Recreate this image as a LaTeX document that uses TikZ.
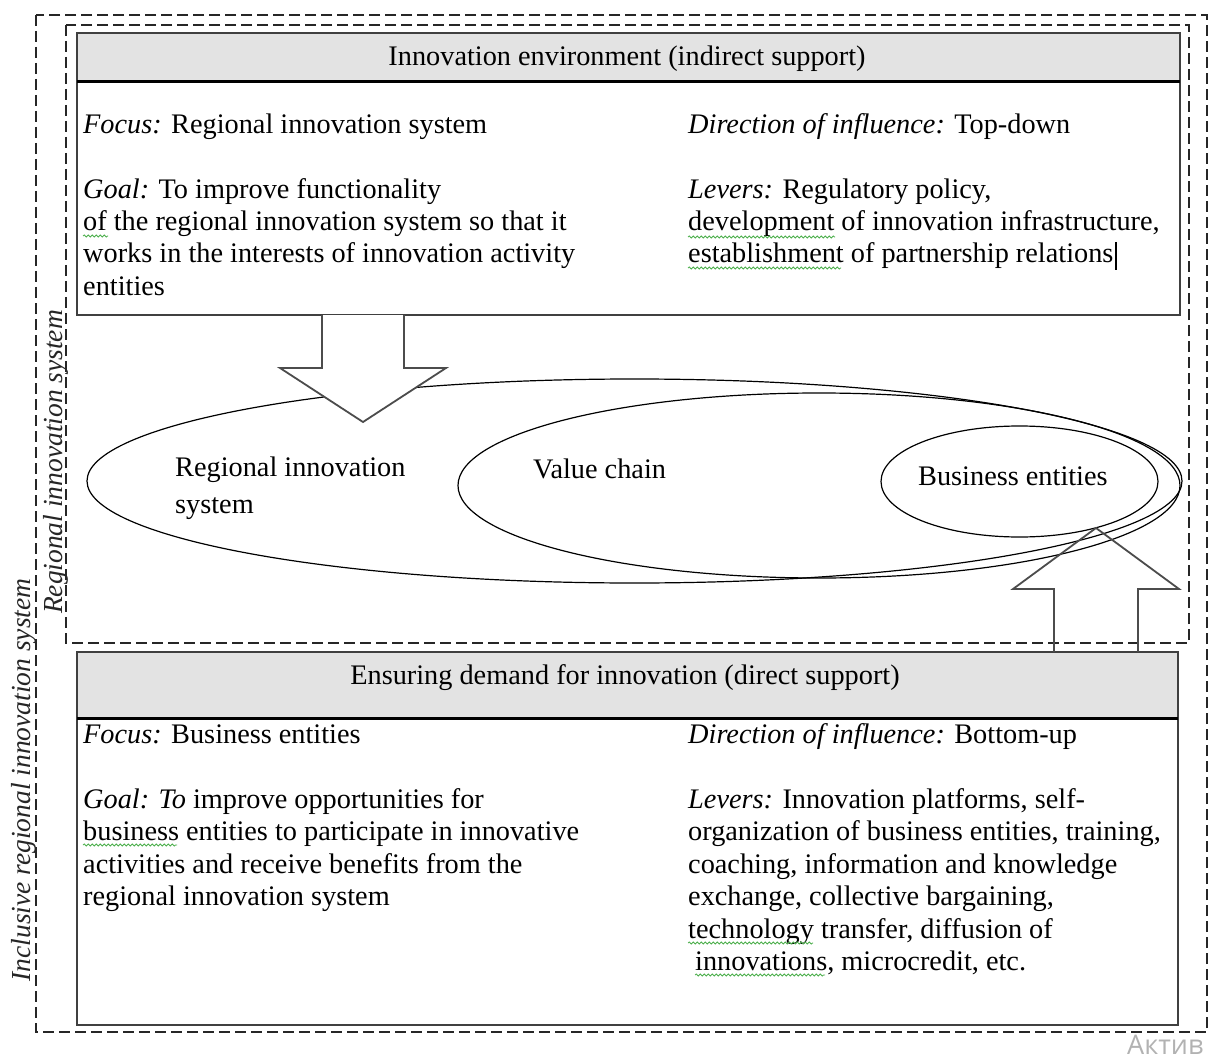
\documentclass[tikz,border=0pt]{standalone}
\usepackage{fontspec}
\usetikzlibrary{decorations.pathmorphing}
\setmainfont{Liberation Serif}
\newfontfamily\wmfont{Open Sans}
\begin{document}
\begin{tikzpicture}[x=1pt,y=-1pt,
  txt/.style={anchor=base west, inner sep=0pt, font=\fontsize{28.3}{32}\selectfont, text=black},
  headtxt/.style={anchor=base, inner sep=0pt, font=\fontsize{28.3}{32}\selectfont, text=black},
  rottxt/.style={anchor=base, inner sep=0pt, rotate=90, font=\fontsize{27.5}{32}\selectfont\itshape, text=black!85},
  dashbox/.style={draw=black!85, line width=1.3pt, dash pattern=on 11pt off 5pt},
  panel/.style={draw=black!75, line width=2pt, fill=white},
  head/.style={draw=black!75, line width=2pt, fill=black!11},
  headline/.style={draw=black, line width=3pt},
  ell/.style={draw=black, line width=1.2pt},
  blockarrow/.style={draw=black!70, line width=1.8pt, line join=miter},
  squiggle/.style={draw=green!55!black!70, line width=0.8pt, decorate, decoration={snake, amplitude=1pt, segment length=4pt}}]
\useasboundingbox (0,0) rectangle (1215,1059);
\fill[white] (0,0) rectangle (1215,1059);

% dashed frames
\draw[dashbox] (36,15) rectangle (1207,1032);
\draw[dashbox] (66,25) rectangle (1189,643);

% top panel
\draw[panel] (77,33) rectangle (1180,315);
\draw[head] (77,33) rectangle (1180,82);
\draw[headline] (77,82) -- (1180,82);
\node[headtxt] (toph) at (627,66) {Innovation environment (indirect support)};

\node[txt] (tl1) at (83,134) {\textit{Focus:} Regional innovation system};
\node[txt] (tl2) at (83,199) {\textit{Goal:} To improve functionality};
\node[txt] (tl3) at (83,231) {of the regional innovation system so that it};
\node[txt] (tl4) at (83,263) {works in the interests of innovation activity};
\node[txt] (tl5) at (83,295) {entities};

\node[txt] (tr1) at (688,134) {\textit{Direction of influence:} Top-down};
\node[txt] (tr2) at (688,199) {\textit{Levers:} Regulatory policy,};
\node[txt] (tr3) at (688,231) {development of innovation infrastructure,};
\node[txt] (tr4) at (688,263) {establishment of partnership relations};
\draw[black, line width=2pt] (tr4.base east) ++(2,-21) -- ++(0,28);

% ellipses
\draw[ell] (634.5,481) ellipse [x radius=547.5pt, y radius=102pt];
\draw[ell] (819,485.5) ellipse [x radius=361pt, y radius=92.5pt];
\draw[ell] (1019.5,481.5) ellipse [x radius=138.5pt, y radius=55.5pt];

\node[txt] (ris1) at (175,476) {Regional innovation};
\node[txt] (ris2) at (175,513) {system};
\node[txt] (vc) at (533,478) {Value chain};
\node[txt] (be) at (918,485) {Business entities};

% bottom panel
\draw[panel] (77,652) rectangle (1178,1025);
\draw[head] (77,652) rectangle (1178,718);
\draw[headline] (77,718) -- (1178,718);
\node[headtxt] (both) at (625,684) {Ensuring demand for innovation (direct support)};

\node[txt] (bl1) at (83,743) {\textit{Focus:} Business entities};
\node[txt] (bl2) at (83,808) {\textit{Goal: To} improve opportunities for};
\node[txt] (bl3) at (83,840) {business entities to participate in innovative};
\node[txt] (bl4) at (83,873) {activities and receive benefits from the};
\node[txt] (bl5) at (83,905) {regional innovation system};

\node[txt] (br1) at (688,743) {\textit{Direction of influence:} Bottom-up};
\node[txt] (br2) at (688,808) {\textit{Levers:} Innovation platforms, self-};
\node[txt] (br3) at (688,840) {organization of business entities, training,};
\node[txt] (br4) at (688,873) {coaching, information and knowledge};
\node[txt] (br5) at (688,905) {exchange, collective bargaining,};
\node[txt] (br6) at (688,938) {technology transfer, diffusion of};
\node[txt] (br7) at (695,970) {innovations, microcredit, etc.};

% spell-check underlines
\draw[squiggle] (tl3.base west) ++(0,5) -- ++(25,0);
\draw[squiggle] (tr3.base west) ++(0,6) -- ++(147,0);
\draw[squiggle] (tr4.base west) ++(0,5) -- ++(153,0);
\draw[squiggle] (bl3.base west) ++(0,5) -- ++(94,0);
\draw[squiggle] (br6.base west) ++(0,5) -- ++(125,0);
\draw[squiggle] (br7.base west) ++(0,5) -- ++(130,0);

% block arrows
\filldraw[blockarrow, fill=white] (322,315) -- (322,368) -- (280,368) -- (363,422) -- (446,368) -- (404,368) -- (404,315);
\draw[blockarrow] (1054,652) -- (1054,589) -- (1013,589) -- (1096,528) -- (1179,589) -- (1138,589) -- (1138,652);

% rotated labels
\node[rottxt] (rislab) at (62,462) {Regional innovation system};
\node[rottxt] (irislab) at (30,780) {Inclusive regional innovation system};

% watermark
\node[anchor=base west, inner sep=0pt, font=\wmfont\fontsize{27}{27}\selectfont, text=black!30] (wm) at (1127,1054) {Актив};
\end{tikzpicture}
\end{document}
